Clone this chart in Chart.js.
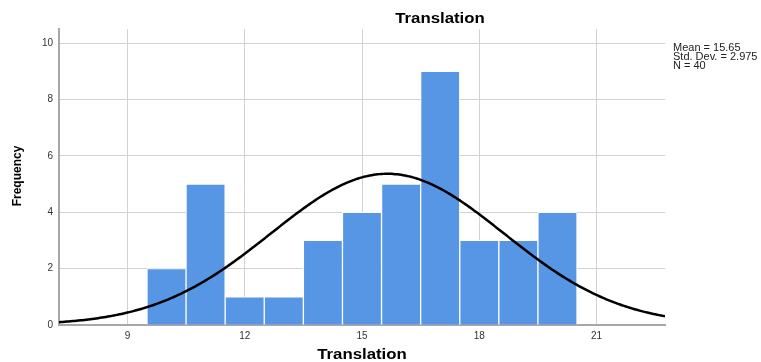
<!DOCTYPE html>
<html>
<head>
<meta charset="utf-8">
<script src="https://cdn.jsdelivr.net/npm/chart.js@4.4.1/dist/chart.umd.min.js"></script>
<style>
  html, body { margin: 0; padding: 0; background: #fff; }
  #wrap { width: 761px; height: 362px; }
</style>
</head>
<body>
<div id="wrap"><canvas id="c" width="761" height="362"></canvas></div>
<script>
// Histogram bins (bin centres, width 1) and their frequencies
const binCenters = [10, 11, 12, 13, 14, 15, 16, 17, 18, 19, 20];
const frequencies = [2, 5, 1, 1, 3, 4, 5, 9, 3, 3, 4];
const xTicks = [9, 12, 15, 18, 21];
const yTicks = [0, 2, 4, 6, 8, 10];

// Summary statistics shown beside the plot
const meanValue = 15.65;
const stdDev = 2.975;
const nCount = 40;
const binWidth = 1;

const xMin = 7.25, xMax = 22.75, yMax = 10.5;

// Fitted normal curve scaled to the histogram's frequencies
const curvePoints = [];
for (let x = xMin; x <= xMax + 1e-9; x += 0.05) {
  const z = (x - meanValue) / stdDev;
  const y = nCount * binWidth / (stdDev * Math.sqrt(2 * Math.PI)) * Math.exp(-0.5 * z * z);
  curvePoints.push({ x: x, y: y });
}

const barData = binCenters.map((c, i) => ({ x: c, y: frequencies[i] }));

const FONT = "'Liberation Sans', Arial, sans-serif";

// Draw text stretched horizontally, centred on (x, y)
function stretchedText(ctx, text, x, y, font, sx, color, rotate) {
  ctx.save();
  ctx.font = font;
  ctx.fillStyle = color;
  ctx.textAlign = 'center';
  ctx.textBaseline = 'middle';
  ctx.translate(x, y);
  if (rotate) ctx.rotate(-Math.PI / 2);
  ctx.scale(sx, 1);
  ctx.fillText(text, 0, 0);
  ctx.restore();
}

const textPlugin = {
  id: 'histText',
  afterDraw(chart) {
    const ctx = chart.ctx;
    const area = chart.chartArea;
    const font = "bold 14px " + FONT;
    stretchedText(ctx, 'Translation', 440, 19, font, 1.2, '#000');
    stretchedText(ctx, 'Translation', (area.left + area.right) / 2, 355, font, 1.2, '#000');
    stretchedText(ctx, 'Frequency', 18, 176, "bold 12px " + FONT, 1.0, '#000', true);

    const lines = [
      'Mean = ' + meanValue.toFixed(2),
      'Std. Dev. = ' + stdDev.toFixed(3),
      'N = ' + nCount
    ];
    lines.forEach((t, i) => {
      ctx.save();
      ctx.font = "10px " + FONT;
      ctx.fillStyle = '#222';
      ctx.textAlign = 'left';
      ctx.textBaseline = 'middle';
      ctx.translate(673, 48 + i * 9);
      ctx.scale(1.1, 1);
      ctx.fillText(t, 0, 0);
      ctx.restore();
    });
  }
};

new Chart(document.getElementById('c'), {
  type: 'bar',
  data: {
    datasets: [
      {
        type: 'line',
        data: curvePoints,
        borderColor: '#000',
        borderWidth: 2.5,
        pointRadius: 0,
        tension: 0,
        fill: false,
        order: 0
      },
      {
        type: 'bar',
        data: barData,
        backgroundColor: 'rgb(86,150,229)',
        borderColor: '#ffffff',
        borderWidth: 1,
        barPercentage: 1,
        categoryPercentage: 1,
        order: 1
      }
    ]
  },
  options: {
    responsive: false,
    animation: false,
    devicePixelRatio: 1,
    layout: { padding: { left: 0, right: 96, top: 29, bottom: 0 } },
    plugins: {
      legend: { display: false },
      tooltip: { enabled: false },
      title: { display: false }
    },
    scales: {
      x: {
        type: 'linear',
        offset: false,
        min: xMin,
        max: xMax,
        afterBuildTicks: s => { s.ticks = xTicks.map(v => ({ value: v })); },
        afterFit: s => { s.height = 37; },
        grid: { color: '#d2d2d2', lineWidth: 1, drawTicks: false, offset: false },
        border: { color: '#a8a8a8', width: 2 },
        ticks: {
          padding: 5,
          color: '#333',
          font: { family: FONT, size: 10 },
          maxRotation: 0
        }
      },
      y: {
        type: 'linear',
        min: 0,
        max: yMax,
        afterBuildTicks: s => { s.ticks = yTicks.map(v => ({ value: v })); },
        afterFit: s => { s.width = 59; },
        grid: { color: '#d2d2d2', lineWidth: 1, drawTicks: false },
        border: { color: '#a8a8a8', width: 2 },
        ticks: {
          padding: 6,
          color: '#333',
          font: { family: FONT, size: 10 }
        }
      }
    }
  },
  plugins: [textPlugin]
});
</script>
</body>
</html>
